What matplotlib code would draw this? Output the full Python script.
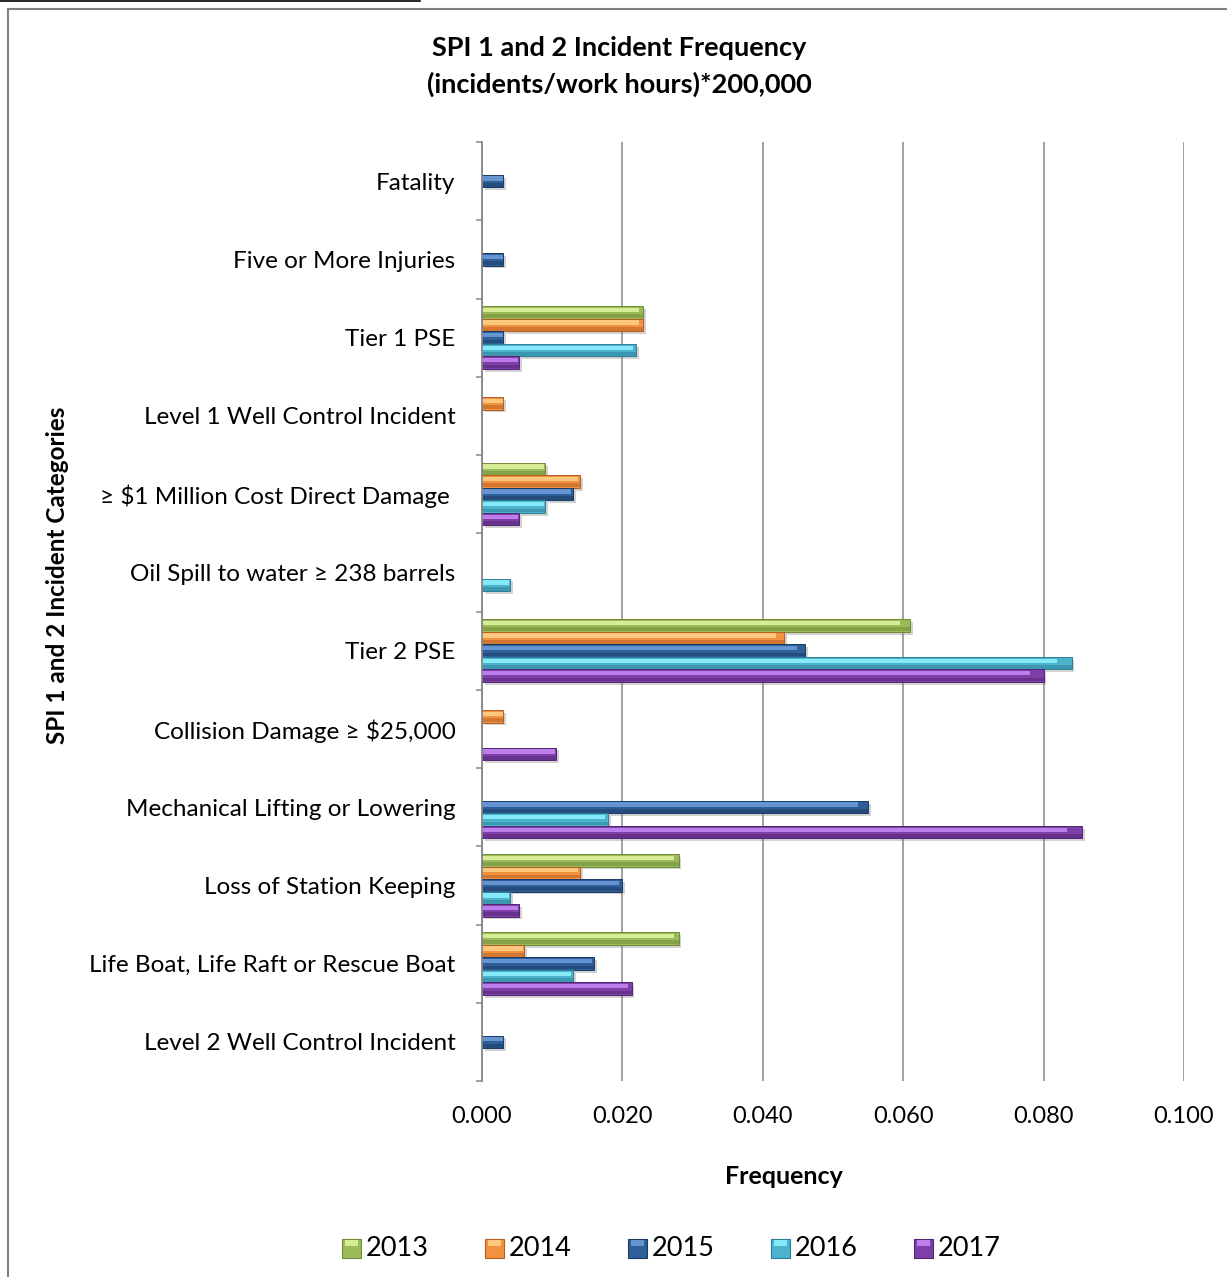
import numpy as np
import matplotlib
matplotlib.use("Agg")
import matplotlib.pyplot as plt
import matplotlib.patheffects as pe
from matplotlib.patches import Rectangle
from matplotlib.lines import Line2D

plt.rcParams['font.family'] = ['Lato', 'DejaVu Sans']

categories = [
    "Fatality",
    "Five or More Injuries",
    "Tier 1 PSE",
    "Level 1 Well Control Incident",
    "\u2265 $1 Million Cost Direct Damage ",
    "Oil Spill to water \u2265 238 barrels",
    "Tier 2 PSE",
    "Collision Damage \u2265 $25,000",
    "Mechanical Lifting or Lowering",
    "Loss of Station Keeping",
    "Life Boat, Life Raft or Rescue Boat",
    "Level 2 Well Control Incident",
]
years = ["2013", "2014", "2015", "2016", "2017"]

freq_2013 = [0, 0, 0.023, 0, 0.009, 0, 0.061, 0, 0, 0.028, 0.028, 0]
freq_2014 = [0, 0, 0.023, 0.003, 0.014, 0, 0.043, 0.003, 0, 0.014, 0.006, 0]
freq_2015 = [0.003, 0.003, 0.003, 0, 0.013, 0, 0.046, 0, 0.055, 0.020, 0.016, 0.003]
freq_2016 = [0, 0, 0.022, 0, 0.009, 0.004, 0.084, 0, 0.018, 0.004, 0.013, 0]
freq_2017 = [0, 0, 0.0053, 0, 0.0053, 0, 0.080, 0.0106, 0.0855, 0.0053, 0.0213, 0]

series = [freq_2013, freq_2014, freq_2015, freq_2016, freq_2017]

# (face, highlight, edge) per year
palette = [
    ("#9BBB59", "#DDF29C", "#6F8A38"),
    ("#F2913F", "#FFCF85", "#B55E22"),
    ("#2F5F98", "#6A9BD8", "#1B3A63"),
    ("#4BB3CC", "#8DF0FF", "#2E7F96"),
    ("#7E3FA8", "#C585F2", "#4F2672"),
]

W, H = 1227, 1277
fig = plt.figure(figsize=(W / 100, H / 100), dpi=100)
ax = fig.add_axes([482 / W, 1 - 1081 / H, (1184 - 482) / W, (1081 - 142) / H])

n = len(categories)
y = np.arange(n)
h = 0.16
shadow = [pe.SimplePatchShadow(offset=(2, -2), shadow_rgbFace="#7F7F7F", alpha=0.35), pe.Normal()]

for k, vals in enumerate(series):
    face, light, edge = palette[k]
    yk = y + (k - 2) * h
    vals = np.array(vals)
    m = vals > 0
    ax.barh(yk[m], vals[m], height=h, color=face, edgecolor=edge, linewidth=0.7,
            zorder=3, path_effects=shadow)
    # bevel highlight along the upper part of each bar
    ax.barh(yk[m] - h * 0.2, vals[m] * 0.975, height=h * 0.34, color=light,
            linewidth=0, alpha=0.9, zorder=4)
    # darker strip along the lower edge
    ax.barh(yk[m] + h * 0.3, vals[m], height=h * 0.3, color=edge,
            linewidth=0, alpha=0.5, zorder=4)

ax.set_xlim(0, 0.1)
ax.set_ylim(n - 0.5, -0.5)
ax.set_xticks(np.arange(0, 0.1001, 0.02))
ax.set_xticklabels([f"{v:.3f}" for v in np.arange(0, 0.1001, 0.02)], fontsize=17)
ax.set_yticks(y)
ax.set_yticklabels(categories, fontsize=17.5)
ax.set_yticks(np.arange(-0.5, n, 1), minor=True)
ax.tick_params(axis='y', which='major', length=0, pad=19)
ax.tick_params(axis='y', which='minor', length=4.5, width=1.1, color="#868686", direction='out')
ax.tick_params(axis='x', length=0, pad=18)
ax.grid(axis='x', color="#868686", linewidth=1.1, zorder=0)
ax.set_axisbelow(True)
for s in ['top', 'right', 'bottom']:
    ax.spines[s].set_visible(False)
ax.spines['left'].set_color("#868686")
ax.spines['left'].set_linewidth(1.3)
ax.spines['left'].set_zorder(5)

fig.text(619 / W, 1 - 48 / H, "SPI 1 and 2 Incident Frequency", ha='center', va='center',
         fontsize=19.5, fontweight='bold')
fig.text(619 / W, 1 - 84 / H, "(incidents/work hours)*200,000", ha='center', va='center',
         fontsize=19.5, fontweight='bold')
fig.text(784 / W, 1 - 1176 / H, "Frequency", ha='center', va='center', fontsize=18, fontweight='bold')
fig.text(58 / W, 1 - 575 / H, "SPI 1 and 2 Incident Categories", ha='center', va='center',
         rotation=90, fontsize=17.5, fontweight='bold')

# legend row along the bottom
for k, yr in enumerate(years):
    x0 = 342 + k * 143
    face, light, edge = palette[k]
    fig.add_artist(Rectangle((x0 / W, 1 - 1258 / H), 19 / W, 19 / H, transform=fig.transFigure,
                             facecolor=face, edgecolor=edge, linewidth=0.8))
    fig.add_artist(Rectangle(((x0 + 3) / W, 1 - 1246 / H), 13 / W, 6 / H, transform=fig.transFigure,
                             facecolor=light, linewidth=0, alpha=0.9))
    fig.text((x0 + 24) / W, 1 - 1248 / H, yr, ha='left', va='center', fontsize=19.5)

# outer chart frame and the rule above it
fig.add_artist(Line2D([8 / W, 1], [1 - 9 / H, 1 - 9 / H], transform=fig.transFigure,
                      color="#808080", linewidth=1.5))
fig.add_artist(Line2D([8 / W, 8 / W], [1 - 9 / H, 0], transform=fig.transFigure,
                      color="#808080", linewidth=1.5))
fig.add_artist(Line2D([0, 420 / W], [1 - 1 / H, 1 - 1 / H], transform=fig.transFigure,
                      color="black", linewidth=1.2))

fig.savefig("out.png", dpi=100, facecolor="white")
